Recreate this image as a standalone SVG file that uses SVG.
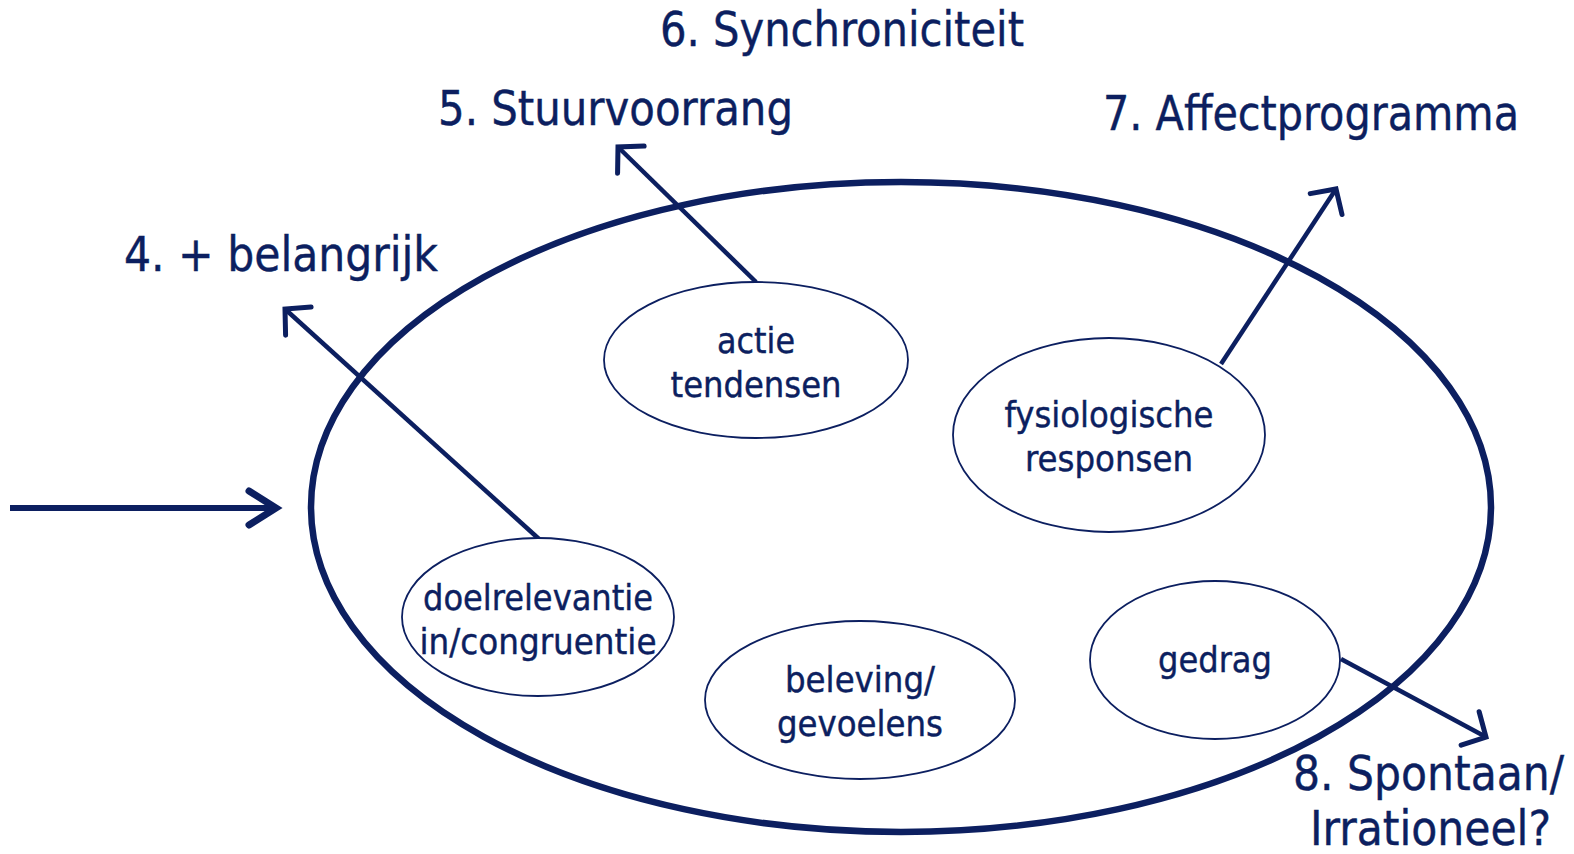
<svg xmlns="http://www.w3.org/2000/svg" width="1574" height="854" viewBox="0 0 1574 854">
<defs>
<style>
.c{stroke:#0c1f60;fill:none}
.big{stroke-width:6.5}
.node{stroke-width:1.8;fill:#fff}
.ar{stroke-width:4.5}
.arw{stroke-width:6}
text{font-family:"DejaVu Sans Condensed","DejaVu Sans",Tahoma,sans-serif;fill:#0c1f60;stroke:#0c1f60;stroke-width:0.4}
.lbl{font-size:48px}
.nt{font-size:36px;text-anchor:middle}
</style>
<marker id="h" markerUnits="userSpaceOnUse" orient="auto" overflow="visible" markerWidth="1" markerHeight="1" refX="0" refY="0">
<path d="M -18,-19 L 0,0 L -18,19" fill="none" stroke="#0c1f60" stroke-width="5" stroke-linecap="round" stroke-linejoin="miter"/>
</marker>
<marker id="hw" markerUnits="userSpaceOnUse" orient="auto" overflow="visible" markerWidth="1" markerHeight="1" refX="0" refY="0">
<path d="M -27,-17 L 0,0 L -27,17" fill="none" stroke="#0c1f60" stroke-width="7" stroke-linecap="round" stroke-linejoin="miter"/>
</marker>
</defs>
<rect width="1574" height="854" fill="#fff"/>
<g id="frame">
<ellipse class="c big" cx="901" cy="507" rx="590" ry="325"/>
</g>
<g id="connectors">
<line class="c arw" x1="10" y1="508" x2="276" y2="508" marker-end="url(#hw)"/>
<line class="c ar" x1="539" y1="539" x2="285" y2="309" marker-end="url(#h)"/>
<line class="c ar" x1="756" y1="282" x2="618" y2="147" marker-end="url(#h)"/>
<line class="c ar" x1="1221" y1="364" x2="1336" y2="189" marker-end="url(#h)"/>
<line class="c ar" x1="1341" y1="659" x2="1486" y2="737" marker-end="url(#h)"/>
</g>
<g id="n-actie">
<ellipse class="c node" cx="756" cy="360" rx="152" ry="78"/>
<text class="nt" x="756" y="353" textLength="78" lengthAdjust="spacingAndGlyphs">actie</text>
<text class="nt" x="756" y="397" textLength="171" lengthAdjust="spacingAndGlyphs">tendensen</text>
</g>
<g id="n-fysio">
<ellipse class="c node" cx="1109" cy="435" rx="156" ry="97"/>
<text class="nt" x="1109" y="427" textLength="209" lengthAdjust="spacingAndGlyphs">fysiologische</text>
<text class="nt" x="1109" y="471" textLength="168" lengthAdjust="spacingAndGlyphs">responsen</text>
</g>
<g id="n-doel">
<ellipse class="c node" cx="538" cy="617" rx="136" ry="79"/>
<text class="nt" x="538" y="610" textLength="230" lengthAdjust="spacingAndGlyphs">doelrelevantie</text>
<text class="nt" x="538" y="654" textLength="237" lengthAdjust="spacingAndGlyphs">in/congruentie</text>
</g>
<g id="n-beleving">
<ellipse class="c node" cx="860" cy="700" rx="155" ry="79"/>
<text class="nt" x="860" y="692" textLength="150" lengthAdjust="spacingAndGlyphs">beleving/</text>
<text class="nt" x="860" y="736" textLength="166" lengthAdjust="spacingAndGlyphs">gevoelens</text>
</g>
<g id="n-gedrag">
<ellipse class="c node" cx="1215" cy="660" rx="125" ry="79"/>
<text class="nt" x="1215" y="672" textLength="114" lengthAdjust="spacingAndGlyphs">gedrag</text>
</g>
<g id="labels">
<text class="lbl" x="660" y="46" textLength="364" lengthAdjust="spacingAndGlyphs">6. Synchroniciteit</text>
<text class="lbl" x="438" y="125" textLength="355" lengthAdjust="spacingAndGlyphs">5. Stuurvoorrang</text>
<text class="lbl" x="1103" y="130" textLength="416" lengthAdjust="spacingAndGlyphs">7. Affectprogramma</text>
<text class="lbl" x="124" y="271" textLength="314" lengthAdjust="spacingAndGlyphs">4. + belangrijk</text>
<text class="lbl" x="1293" y="790" textLength="271" lengthAdjust="spacingAndGlyphs">8. Spontaan/</text>
<text class="lbl" x="1310" y="845" textLength="241" lengthAdjust="spacingAndGlyphs">Irrationeel?</text>
</g>
</svg>
